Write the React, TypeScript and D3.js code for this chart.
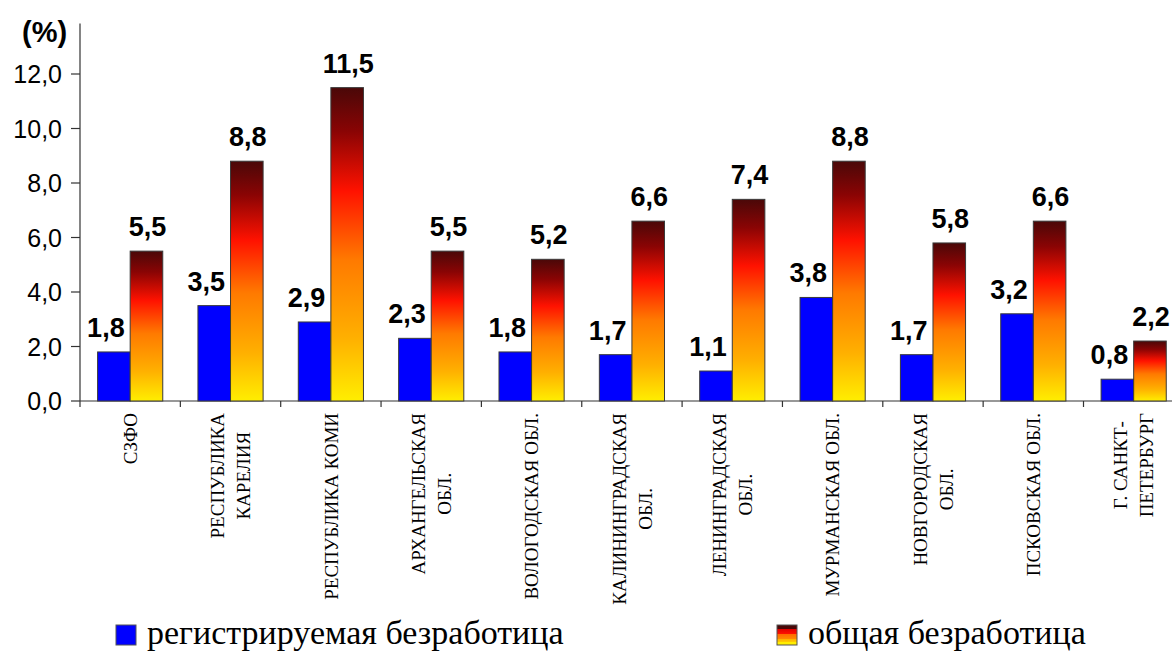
import React, { useEffect, useRef } from "react";
import * as d3 from "d3";

const categories: string[][] = [
  ["СЗФО"],
  ["РЕСПУБЛИКА", "КАРЕЛИЯ"],
  ["РЕСПУБЛИКА КОМИ"],
  ["АРХАНГЕЛЬСКАЯ", "ОБЛ."],
  ["ВОЛОГОДСКАЯ ОБЛ."],
  ["КАЛИНИНГРАДСКАЯ", "ОБЛ."],
  ["ЛЕНИНГРАДСКАЯ", "ОБЛ."],
  ["МУРМАНСКАЯ ОБЛ."],
  ["НОВГОРОДСКАЯ", "ОБЛ."],
  ["ПСКОВСКАЯ ОБЛ."],
  ["Г. САНКТ-", "ПЕТЕРБУРГ"],
];
const registered: number[] = [1.8, 3.5, 2.9, 2.3, 1.8, 1.7, 1.1, 3.8, 1.7, 3.2, 0.8];
const total: number[] = [5.5, 8.8, 11.5, 5.5, 5.2, 6.6, 7.4, 8.8, 5.8, 6.6, 2.2];
const seriesNames: string[] = ["регистрируемая безработица", "общая безработица"];
const yTicks: number[] = [0, 2, 4, 6, 8, 10, 12];

const W = 1172;
const H = 651;
const X0 = 80;
const BAND = 100.35;
const Y0 = 401;
const Y12 = 74;
const SANS = "'Liberation Sans', Arial, sans-serif";
const SERIF = "'Liberation Serif', 'Times New Roman', serif";

export default function App() {
  const ref = useRef<SVGSVGElement | null>(null);

  useEffect(() => {
    const svg = d3.select(ref.current);
    svg.selectAll("*").remove();

    const locale = d3.formatLocale({ decimal: ",", thousands: " ", grouping: [3], currency: ["", ""] });
    const fmt = locale.format(".1f");

    const keys = categories.map((_, i) => String(i));
    const x = d3.scaleBand<string>().domain(keys).range([X0, X0 + BAND * keys.length]).padding(0);
    const xs = d3.scaleBand<string>().domain(["r", "t"]).range([0, x.bandwidth()]).paddingInner(0).paddingOuter(0.54);
    const y = d3.scaleLinear().domain([0, 12]).range([Y0, Y12]);

    const defs = svg.append("defs");
    const grad = defs.append("linearGradient").attr("id", "redgrad").attr("x1", 0).attr("y1", 0).attr("x2", 0).attr("y2", 1);
    const stops: [number, string][] = [
      [0, "#4a0808"],
      [0.14, "#8a0404"],
      [0.33, "#ff1200"],
      [0.55, "#ff7a00"],
      [0.8, "#ffb000"],
      [1, "#ffee00"],
    ];
    stops.forEach(([o, c]) => grad.append("stop").attr("offset", o).attr("stop-color", c));

    const lgrad = defs.append("linearGradient").attr("id", "legrad").attr("x1", 0).attr("y1", 0).attr("x2", 0).attr("y2", 1);
    const lstops: [number, string][] = [
      [0, "#4a0808"], [0.2, "#4a0808"], [0.2, "#e00000"], [0.45, "#ff1200"], [0.45, "#ff6a00"],
      [0.7, "#ff8a00"], [0.7, "#ffb000"], [0.85, "#ffcc00"], [0.85, "#ffee00"], [1, "#ffee00"],
    ];
    lstops.forEach(([o, c]) => lgrad.append("stop").attr("offset", o).attr("stop-color", c));

    // Y axis
    const axisTop = y(13.85);
    svg.append("line").attr("x1", X0).attr("x2", X0).attr("y1", axisTop).attr("y2", Y0)
      .attr("stroke", "#333").attr("stroke-width", 1.2);
    const yg = svg.append("g");
    yTicks.forEach((t) => {
      yg.append("line").attr("x1", X0 - 9).attr("x2", X0).attr("y1", y(t)).attr("y2", y(t))
        .attr("stroke", "#333").attr("stroke-width", 1.2);
      yg.append("text").attr("x", X0 - 18).attr("y", y(t)).attr("dy", "0.36em")
        .attr("text-anchor", "end").attr("font-family", SANS)
        .attr("font-size", 25).attr("fill", "#000").text(fmt(t));
    });
    svg.append("text").attr("x", 22).attr("y", 42).attr("font-family", SANS)
      .attr("font-weight", "bold").attr("font-size", 29).attr("fill", "#000").text("(%)");

    // X axis
    svg.append("line").attr("x1", X0).attr("x2", W).attr("y1", Y0).attr("y2", Y0)
      .attr("stroke", "#333").attr("stroke-width", 1.2);
    keys.forEach((k) => {
      const bx = x(k)!;
      if (bx <= W) {
        svg.append("line").attr("x1", bx).attr("x2", bx).attr("y1", Y0).attr("y2", Y0 + 6)
          .attr("stroke", "#333").attr("stroke-width", 1.2);
      }
    });

    // Bars
    const g = svg.append("g");
    keys.forEach((k, i) => {
      const bx = x(k)!;
      const vals: [string, number][] = [["r", registered[i]], ["t", total[i]]];
      vals.forEach(([s, v]) => {
        g.append("rect").attr("x", bx + xs(s)!).attr("y", y(v)).attr("width", xs.bandwidth())
          .attr("height", Y0 - y(v)).attr("fill", s === "r" ? "#0000ff" : "url(#redgrad)")
          .attr("stroke", "#3a3a3a").attr("stroke-width", 1);
        g.append("text").attr("x", bx + xs(s)! + xs.bandwidth() / 2 + (s === "r" ? -8 : 1))
          .attr("y", y(v) - 15).attr("text-anchor", "middle")
          .attr("font-family", SANS).attr("font-weight", "bold")
          .attr("font-size", 27).attr("fill", "#000").text(fmt(v));
      });
    });

    // Category labels
    const lg = svg.append("g");
    const fontCat = `19px ${SERIF}`;
    const canvas = document.createElement("canvas");
    const ctx = canvas.getContext("2d")!;
    ctx.font = fontCat;
    keys.forEach((k, i) => {
      const lines = categories[i];
      const maxLen = d3.max(lines, (l) => ctx.measureText(l).width) || 0;
      const cy = 413 + maxLen / 2;
      const cx = x(k)! + x.bandwidth() / 2;
      const n = lines.length;
      lines.forEach((l, j) => {
        const lx = cx + (j - (n - 1) / 2) * 26;
        lg.append("text").attr("transform", `translate(${lx},${cy}) rotate(-90)`)
          .attr("text-anchor", "middle").attr("dy", "0.35em")
          .attr("font-family", SERIF).attr("font-size", 19)
          .attr("fill", "#000").text(l);
      });
    });

    // Legend
    const leg = svg.append("g");
    const legItems: [number, string, string][] = [
      [116, "#0000ff", seriesNames[0]],
      [777, "url(#legrad)", seriesNames[1]],
    ];
    legItems.forEach(([lx, fill, name]) => {
      leg.append("rect").attr("x", lx).attr("y", 625).attr("width", 20).attr("height", 20)
        .attr("fill", fill).attr("stroke", "#555").attr("stroke-width", 1);
      leg.append("text").attr("x", lx + 31).attr("y", 644)
        .attr("font-family", SERIF).attr("font-size", 34)
        .attr("fill", "#000").text(name);
    });
  }, []);

  return (
    <svg ref={ref} width={W} height={H} style={{ position: "absolute", left: 0, top: 0, background: "#fff" }} />
  );
}
